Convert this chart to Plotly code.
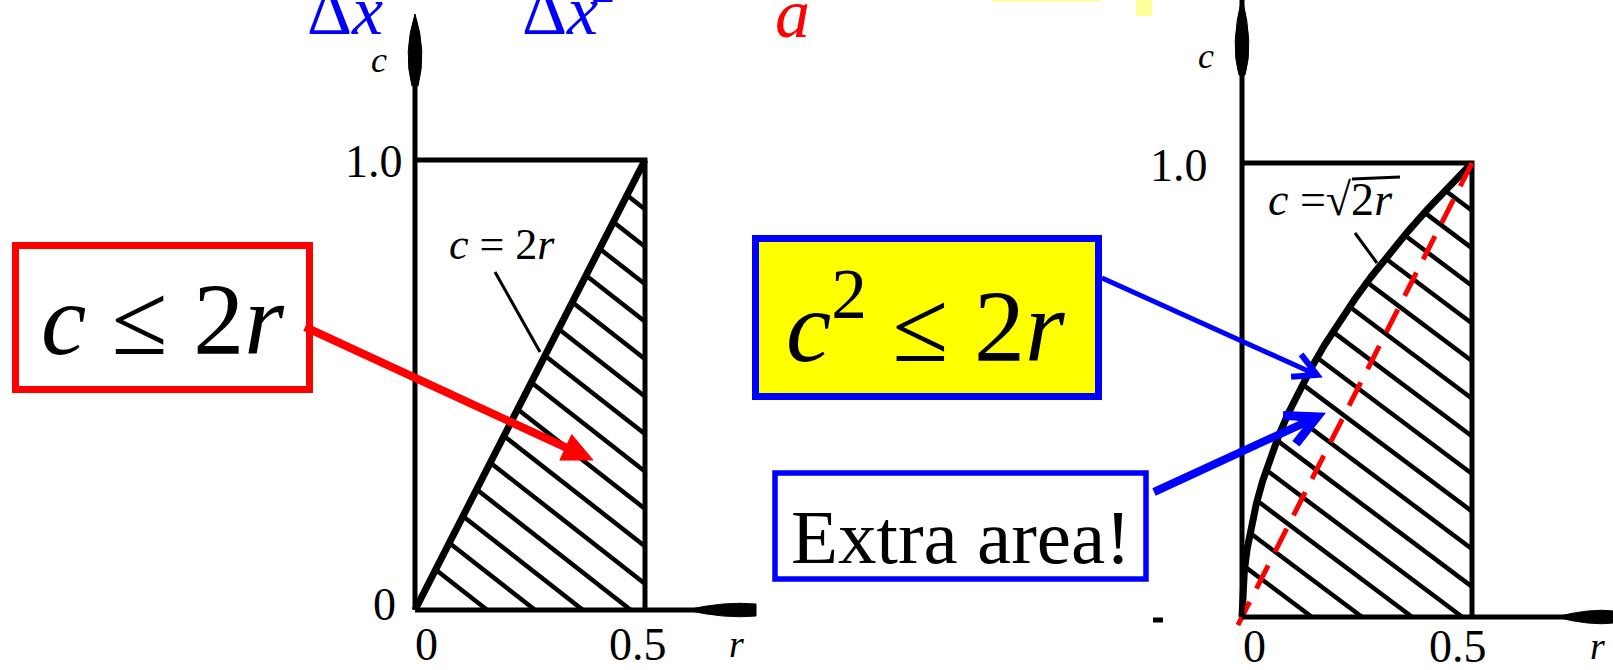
import numpy as np
import plotly.graph_objects as go

W, H = 1613, 670
SERIF = "Liberation Serif, Times New Roman, serif"
RED, BLUE, YELLOW = "#FF0000", "#0000FF", "#FFFF00"

# ---------------- data ----------------
# unit cell boundary: top edge c = 1.0 and right edge r = 0.5
cell_r = [0.0, 0.5, 0.5]
cell_c = [1.0, 1.0, 0.0]

# left diagram boundary: c = 2r
lin_r = [0.0, 0.5]
lin_c = [0.0, 1.0]

# right diagram boundary: c = sqrt(2r)  (r = c^2 / 2)
sqrt_c = [0.00, 0.05, 0.10, 0.15, 0.20, 0.25, 0.30, 0.35, 0.40, 0.45, 0.50,
          0.55, 0.60, 0.65, 0.70, 0.75, 0.80, 0.85, 0.90, 0.95, 1.00]
sqrt_r = [0.0, 0.00125, 0.005, 0.01125, 0.02, 0.03125, 0.045, 0.06125, 0.08,
          0.10125, 0.125, 0.15125, 0.18, 0.21125, 0.245, 0.28125, 0.32,
          0.36125, 0.405, 0.45125, 0.5]

# dashed line c = 2r overlaid on the right diagram
ref_r = [0.5, -0.012]
ref_c = [1.0, -0.024]

# tick labels
x_tick_vals = [0.0, 0.5]
x_tick_text = ["0", "0.5"]
left_y_tick_vals = [0.0, 1.0]
left_y_tick_text = ["0", "1.0"]
right_y_tick_vals = [1.0]
right_y_tick_text = ["1.0"]


def px(x):
    return x / W


def py(y):
    return 1 - y / H


def panel_axes(r0_px, r_half_px, c0_px, c1_px, x_lo_px, x_hi_px):
    """Axis domain/range so that r=0, r=0.5, c=0, c=1 fall on given pixels."""
    sx = (r_half_px - r0_px) / 0.5
    sy = (c0_px - c1_px) / 1.0
    xa = dict(domain=[x_lo_px / W, x_hi_px / W],
              range=[(x_lo_px - r0_px) / sx, (x_hi_px - r0_px) / sx],
              visible=False, fixedrange=True)
    ya = dict(domain=[0, 1], range=[(c0_px - H) / sy, c0_px / sy],
              visible=False, fixedrange=True)
    return xa, ya


def hatch(curve_r, curve_c, slope, start, step, r_max=0.5, c_max=1.0):
    """Diagonal hatch lines r = b - c/slope clipped to the region between
    the boundary curve and the edge r = r_max."""
    cs = np.linspace(0.0, c_max, 4001)
    rc = np.interp(cs, curve_c, curve_r)
    xs, ys = [], []
    b = start
    while b - c_max / slope <= r_max:
        rl = b - cs / slope
        ok = (rl >= rc) & (rl <= r_max)
        if ok.any():
            c0, c1 = cs[ok][0], cs[ok][-1]
            xs += [b - c0 / slope, b - c1 / slope, None]
            ys += [c0, c1, None]
        b += step
    return xs, ys


fig = go.Figure()

# ---------------- left diagram ----------------
hx, hy = hatch(lin_r, lin_c, 0.80, 0.157, 0.104)
fig.add_trace(go.Scatter(x=hx, y=hy, mode="lines", line=dict(color="black", width=4.5),
                         xaxis="x", yaxis="y", hoverinfo="skip"))
fig.add_trace(go.Scatter(x=cell_r, y=cell_c, mode="lines", line=dict(color="black", width=5),
                         xaxis="x", yaxis="y", hoverinfo="skip"))
fig.add_trace(go.Scatter(x=lin_r, y=lin_c, mode="lines", line=dict(color="black", width=7),
                         xaxis="x", yaxis="y", hoverinfo="skip"))

# ---------------- right diagram ----------------
hx2, hy2 = hatch(sqrt_r, sqrt_c, 0.76, 0.152, 0.109)
fig.add_trace(go.Scatter(x=hx2, y=hy2, mode="lines", line=dict(color="black", width=4.5),
                         xaxis="x2", yaxis="y2", hoverinfo="skip"))
fig.add_trace(go.Scatter(x=cell_r, y=cell_c, mode="lines", line=dict(color="black", width=5),
                         xaxis="x2", yaxis="y2", hoverinfo="skip"))
fig.add_trace(go.Scatter(x=sqrt_r, y=sqrt_c, mode="lines", line=dict(color="black", width=7),
                         xaxis="x2", yaxis="y2", hoverinfo="skip"))
fig.add_trace(go.Scatter(x=ref_r, y=ref_c, mode="lines",
                         line=dict(color=RED, width=5, dash="26px,15px"),
                         xaxis="x2", yaxis="y2", hoverinfo="skip"))

xa1, ya1 = panel_axes(415, 645, 610, 160, 300, 760)
xa2, ya2 = panel_axes(1242, 1472, 617, 163, 1120, 1613)
ya1["anchor"] = "x"
xa1["anchor"] = "y"
xa2["anchor"] = "y2"
ya2["anchor"] = "x2"

shapes = []
annotations = []


def line(x0, y0, x1, y1, color="black", width=4, dash=None):
    d = dict(type="line", xref="paper", yref="paper", x0=px(x0), y0=py(y0),
             x1=px(x1), y1=py(y1), line=dict(color=color, width=width))
    if dash:
        d["line"]["dash"] = dash
    shapes.append(d)


def path(points, closed=True, fill="black", color="black", width=1):
    shapes.append(dict(type="path", xref="paper", yref="paper", path=points,
                       fillcolor=fill if closed else "rgba(0,0,0,0)",
                       line=dict(color=color, width=width)))


def P(x, y):
    return f"{px(x):.6f},{py(y):.6f}"


def text(x, y, s, size, color="black", xref="paper", yref="paper", xshift=0, yshift=0,
         xanchor="center"):
    annotations.append(dict(x=x, y=y, xref=xref, yref=yref, text=s, showarrow=False,
                            xanchor=xanchor, yanchor="middle", xshift=xshift, yshift=yshift,
                            font=dict(family=SERIF, size=size, color=color)))


# axis lines (data coordinates of each panel)
for xr, yr, r_end, c_end in (("x", "y", 0.739, 1.30), ("x2", "y2", 0.81, 1.36)):
    shapes.append(dict(type="line", xref=xr, yref=yr, x0=0, y0=0, x1=0, y1=c_end,
                       line=dict(color="black", width=5)))
    shapes.append(dict(type="line", xref=xr, yref=yr, x0=0, y0=0, x1=r_end, y1=0,
                       line=dict(color="black", width=5)))

# axis arrowheads (spindle shaped)
path(f"M{P(415,14)} Q{P(427,52)} {P(418,86)} L{P(412,86)} Q{P(403,52)} {P(415,14)} Z")
path(f"M{P(686,610)} Q{P(725,601)} {P(756,604)} L{P(756,616)} Q{P(725,619)} {P(686,610)} Z")
path(f"M{P(1242,-2)} Q{P(1254,44)} {P(1245,75)} L{P(1239,75)} Q{P(1230,44)} {P(1242,-2)} Z")
path(f"M{P(1556,617)} Q{P(1590,608)} {P(1614,611)} L{P(1614,623)} Q{P(1590,626)} {P(1556,617)} Z")
line(1153, 620, 1163, 620, width=5)

# leader lines for the curve labels
line(495, 272, 540, 352, width=3)
line(1355, 233, 1377, 263, width=3)
line(1352, 179, 1400, 177, width=3)

# tick labels
tick_font = 46
text(x_tick_vals[0], 0, x_tick_text[0], tick_font, xref="x", yref="y", xshift=11, yshift=-34)
text(x_tick_vals[1], 0, x_tick_text[1], tick_font, xref="x", yref="y", xshift=-7, yshift=-34)
text(0, left_y_tick_vals[0], left_y_tick_text[0], tick_font, xref="x", yref="y", xshift=-31, yshift=6)
text(0, left_y_tick_vals[1], left_y_tick_text[1], tick_font, xref="x", yref="y", xshift=-41, yshift=-1)
text(x_tick_vals[0], 0, x_tick_text[0], tick_font, xref="x2", yref="y2", xshift=12, yshift=-29)
text(x_tick_vals[1], 0, x_tick_text[1], tick_font, xref="x2", yref="y2", xshift=-14, yshift=-29)
text(0, right_y_tick_vals[0], right_y_tick_text[0], tick_font, xref="x2", yref="y2", xshift=-63, yshift=-2)

# axis names
text(px(379), py(60), "<i>c</i>", 36)
text(px(736), py(644), "<i>r</i>", 38)
text(px(1206), py(56), "<i>c</i>", 36)
text(px(1597), py(646), "<i>r</i>", 38)

# curve labels
text(px(502), py(244), "<i>c</i> = 2<i>r</i>", 44)
text(px(1330), py(200), "<i>c</i> =√2<i>r</i>", 46)

# heading fragments along the top edge
text(px(345), py(10), "Δ<i>x</i>", 70, color=BLUE)
text(px(560), py(10), "Δ<i>x</i>", 70, color=BLUE)
text(px(603), py(-14), "2", 48, color=BLUE)
text(px(792), py(14), "<i>a</i>", 70, color=RED)
shapes.append(dict(type="rect", xref="paper", yref="paper", x0=px(992), x1=px(1100),
                   y0=py(1.5), y1=py(0), fillcolor="#FFFF99", line=dict(width=0)))
shapes.append(dict(type="rect", xref="paper", yref="paper", x0=px(1136), x1=px(1152),
                   y0=py(16), y1=py(0), fillcolor="#FFFF99", line=dict(width=0)))

# callout boxes
shapes.append(dict(type="rect", xref="paper", yref="paper", x0=px(15.5), x1=px(309.5),
                   y0=py(389.5), y1=py(245.5), fillcolor="white", line=dict(color=RED, width=7)))
text(px(162), py(319), "<i>c</i> ≤ 2<i>r</i>", 102)

shapes.append(dict(type="rect", xref="paper", yref="paper", x0=px(755.5), x1=px(1098.5),
                   y0=py(396.5), y1=py(238.5), fillcolor=YELLOW, line=dict(color=BLUE, width=7)))
text(px(925), py(318), "<i>c</i><sup>2</sup> ≤ 2<i>r</i>", 102)

shapes.append(dict(type="rect", xref="paper", yref="paper", x0=px(775), x1=px(1146),
                   y0=py(579), y1=py(473), fillcolor="white", line=dict(color=BLUE, width=5.5)))
text(px(961), py(537), "Extra area!", 77)

# red arrow: c <= 2r  ->  hatched region
line(305, 327, 570.3, 449.5, color=RED, width=8)
path(f"M{P(593,460)} L{P(559.9,460.1)} L{P(571.7,434.7)} Z", fill=RED, color=RED, width=1)

# thin blue arrow: c^2 <= 2r -> curve
line(1102, 278, 1317, 375, color=BLUE, width=5)
path(f"M{P(1291.1,376.7)} L{P(1317,375)} L{P(1301.1,354.4)}", closed=False, color=BLUE, width=6)

# thick blue arrow: Extra area! -> sliver between curve and dashed line
line(1154, 492, 1317, 417, color=BLUE, width=8)
path(f"M{P(1283.0,415.6)} L{P(1317,417)} L{P(1295.9,443.7)}", closed=False, color=BLUE, width=9)

fig.update_layout(
    width=W, height=H, autosize=False,
    margin=dict(l=0, r=0, t=0, b=0, pad=0),
    paper_bgcolor="white", plot_bgcolor="rgba(0,0,0,0)",
    showlegend=False,
    xaxis=xa1, yaxis=ya1, xaxis2=xa2, yaxis2=ya2,
    shapes=shapes, annotations=annotations,
)

fig.write_html("out.html", config={"displayModeBar": False, "staticPlot": True},
               post_script="document.body.style.margin='0';document.body.style.overflow='hidden';")
